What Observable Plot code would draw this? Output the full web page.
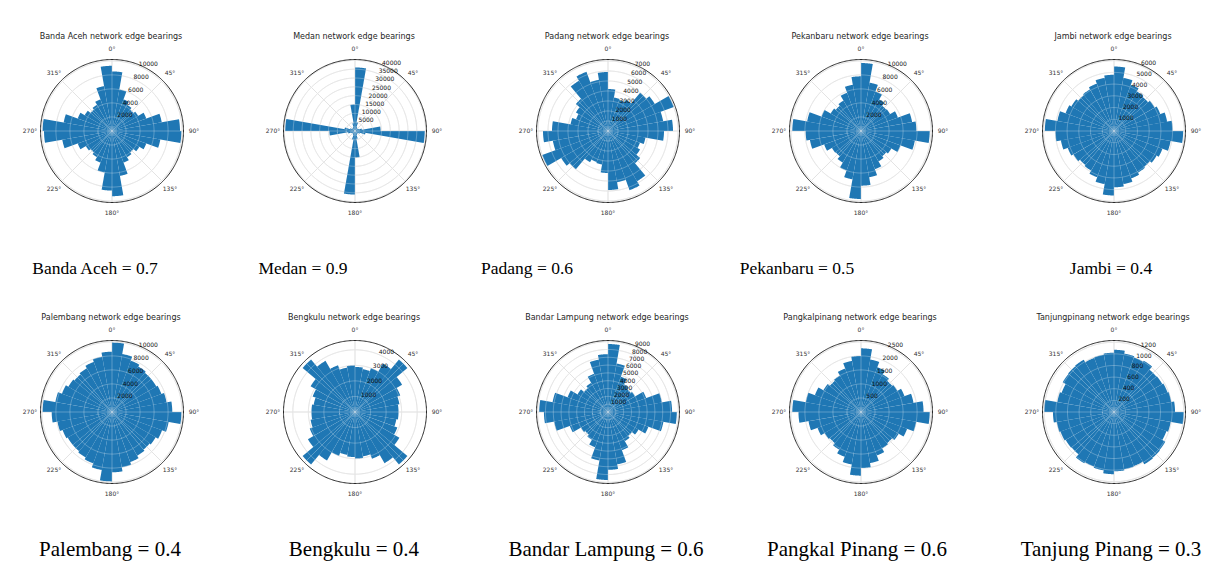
<!DOCTYPE html>
<html><head><meta charset="utf-8">
<script src="https://cdn.jsdelivr.net/npm/d3@7"></script>
<script src="https://cdn.jsdelivr.net/npm/@observablehq/plot@0.6"></script>
<style>
html,body{margin:0;padding:0;background:#fff;}
#root{position:relative;width:1220px;height:573px;overflow:hidden;background:#fff;}
.panel{position:absolute;overflow:visible;}
.title{position:absolute;font-family:"DejaVu Sans",sans-serif;font-size:8px;color:#262626;white-space:nowrap;transform:translate(-50%,-50%);}
.caption{position:absolute;font-family:"Liberation Serif","Times New Roman",serif;font-size:17.5px;color:#000;white-space:nowrap;transform:translate(-50%,-50%);}
.caption.row1{font-size:21px;}
</style></head><body><div id="root"></div>
<script>
// ---- data ----
const binStarts = [0,10,20,30,40,50,60,70,80,90,100,110,120,130,140,150,160,170,180,190,200,210,220,230,240,250,260,270,280,290,300,310,320,330,340,350];
const angleTicks = [0,45,90,135,180,225,270,315];
const plotTitles = ["Banda Aceh network edge bearings","Medan network edge bearings","Padang network edge bearings","Pekanbaru network edge bearings","Jambi network edge bearings","Palembang network edge bearings","Bengkulu network edge bearings","Bandar Lampung network edge bearings","Pangkalpinang network edge bearings","Tanjungpinang network edge bearings"];
const captionNames = ["Banda Aceh","Medan","Padang","Pekanbaru","Jambi","Palembang","Bengkulu","Bandar Lampung","Pangkal Pinang","Tanjung Pinang"];
const scores = ["0.7","0.9","0.6","0.5","0.4","0.4","0.4","0.6","0.6","0.3"];

const bandaAceh = [8500,6000,4800,4300,4000,4300,5200,7200,9700,9900,7000,5200,4500,4000,4300,4800,6500,9300, 8500,6000,4800,4300,4000,4300,5200,7200,9700,9900,7000,5200,4500,4000,4300,4800,6500,9300];
const medan = [36000,5000,2500,2000,1800,2000,2500,4000,14500,39500,6000,3000,2200,2000,2000,2500,4500,15000, 36000,5000,2500,2000,1800,2000,2500,4000,14500,39500,6000,3000,2200,2000,2000,2500,4500,15000];
const padang = [4200,3400,3300,3600,5000,5400,7000,5600,6500,5600,3800,3400,3700,4200,5800,6300,5200,5900, 4200,3400,3300,3600,5000,5400,7000,5600,6500,5600,3800,3400,3700,4200,5800,6300,5200,5900];
const pekanbaru = [9700,7000,6000,5200,4700,4800,5600,7400,7900,9800,7800,6000,5000,4700,5000,5800,6700,7800, 9700,7000,6000,5200,4700,4800,5600,7400,7900,9800,7800,6000,5000,4700,5000,5800,6700,7800];
const jambi = [5500,4600,4200,3900,3800,4000,4200,4600,5000,5900,4900,4400,4200,4000,4100,4300,4600,4800, 5500,4600,4200,3900,3800,4000,4200,4600,5000,5900,4900,4400,4200,4000,4100,4300,4600,4800];
const palembang = [9900,8400,7800,7500,7300,7300,7500,7900,8600,9900,8200,7600,7200,7000,7200,7600,8000,8600, 9900,8400,7800,7500,7300,7300,7500,7900,8600,9900,8200,7600,7200,7000,7200,7600,8000,8600];
const bengkulu = [2900,2800,3000,3600,4400,3500,3100,2900,2800,2800,2700,2900,3300,4400,3800,3200,2900,3000, 2900,2800,3000,3600,4400,3500,3100,2900,2800,2800,2700,2900,3300,4400,3800,3200,2900,3000];
const bandarLampung = [8700,6300,4800,4100,3800,4000,5200,7000,8200,8800,7200,5500,4500,4000,4300,5200,6800,7400, 8700,6300,4800,4100,3800,4000,5200,7000,8200,8800,7200,5500,4500,4000,4300,5200,6800,7400];
const pangkalpinang = [2270,1900,1700,1550,1450,1500,1650,1900,2230,2450,2000,1750,1550,1450,1500,1650,1850,2000, 2270,1900,1700,1550,1450,1500,1650,1900,2230,2450,2000,1750,1550,1450,1500,1650,1850,2000];
const tanjungpinang = [1070,1020,1000,1020,950,960,980,1000,1050,1200,990,960,1020,1030,1040,990,1000,1020, 1070,1020,1000,1020,950,960,980,1000,1050,1200,990,960,1020,1030,1040,990,1000,1020];

const ticksBandaAceh = [2000,4000,6000,8000,10000];
const ticksMedan = [5000,10000,15000,20000,25000,30000,35000,40000];
const ticksPadang = [1000,2000,3000,4000,5000,6000,7000];
const ticksPekanbaru = [2000,4000,6000,8000,10000];
const ticksJambi = [1000,2000,3000,4000,5000,6000];
const ticksPalembang = [2000,4000,6000,8000,10000];
const ticksBengkulu = [1000,2000,3000,4000];
const ticksBandarLampung = [1000,2000,3000,4000,5000,6000,7000,8000,9000];
const ticksPangkalpinang = [500,1000,1500,2000,2500];
const ticksTanjungpinang = [200,400,600,800,1000,1200];
const radialMax = [10200,40500,7150,10200,6100,10200,4600,9150,2550,1230];

const seriesList = [bandaAceh,medan,padang,pekanbaru,jambi,palembang,bengkulu,bandarLampung,pangkalpinang,tanjungpinang];
const tickList = [ticksBandaAceh,ticksMedan,ticksPadang,ticksPekanbaru,ticksJambi,ticksPalembang,ticksBengkulu,ticksBandarLampung,ticksPangkalpinang,ticksTanjungpinang];

// ---- layout ----
const centerX = [111,354,607,860,1113];
const centerY = [130,411];
const captionX = [[95,303,527,797,1111],[110,354,606,857,1111]];
const captionY = [268,549];
const R = 71.5, M = 34, D = 20;
const lon = a => 180 - a;
const circle = rad => d3.geoCircle().center([0,90]).radius(rad).precision(1)();

function wedge(a0, a1, rad) {
  const outer = d3.range(a0, a1 + 1e-6, 0.5).map(a => [lon(a), 90 - rad]);
  const inner = [[lon(a1), 90 - 1e-4], [lon(a0), 90 - 1e-4]];
  const ring = [...outer, ...inner, outer[0]];
  let poly = {type: "Polygon", coordinates: [ring]};
  if (d3.geoArea(poly) > 2 * Math.PI) poly = {type: "Polygon", coordinates: [ring.slice().reverse()]};
  return poly;
}

const root = document.getElementById("root");
for (let i = 0; i < 10; i++) {
  const row = Math.floor(i / 5), col = i % 5;
  const cx = centerX[col], cy = centerY[row];
  const rs = d3.scaleLinear().domain([0, radialMax[i]]).range([0, D]);
  const bars = binStarts.map((b, k) => ({start: b, value: seriesList[i][k]}));
  const ticks = tickList[i];
  const spokes = a => ({type: "LineString", coordinates: [[lon(a), 90], [lon(a), 90 - D]]});
  const chart = Plot.plot({
    width: 2 * (R + M), height: 2 * (R + M), margin: M,
    style: {fontFamily: "DejaVu Sans", background: "transparent", overflow: "visible"},
    projection: {type: "azimuthal-equidistant", rotate: [0, -90], domain: circle(D), inset: 0, clip: false},
    marks: [
      Plot.geo(ticks, {geometry: t => circle(rs(t)), stroke: "#cfcfcf", strokeWidth: 0.8, fill: "none"}),
      Plot.geo(angleTicks, {geometry: spokes, stroke: "#cfcfcf", strokeWidth: 0.8}),
      Plot.geo(bars, {geometry: d => wedge(d.start, d.start + 10, rs(d.value)), fill: "#1f77b4"}),
      Plot.geo(ticks, {geometry: t => circle(rs(t)), stroke: "#ffffff", strokeOpacity: 0.35, strokeWidth: 0.8, fill: "none"}),
      Plot.geo(angleTicks, {geometry: spokes, stroke: "#ffffff", strokeOpacity: 0.35, strokeWidth: 0.8}),
      Plot.geo([D], {geometry: d => circle(d), stroke: "#2a2a2a", strokeWidth: 1, fill: "none"}),
      Plot.text(angleTicks, {x: a => lon(a), y: () => 90 - D * 1.147, text: a => a + "°", fontSize: 6, fill: "#333"}),
      Plot.text(ticks, {x: () => lon(22.5), y: t => 90 - rs(t), text: t => String(t), textAnchor: "start", dy: -2.5, fontSize: 6, fill: "#111"})
    ]
  });
  chart.classList.add("panel");
  chart.style.left = (cx - R - M) + "px";
  chart.style.top = (cy - R - M) + "px";
  root.appendChild(chart);

  const t = document.createElement("div");
  t.className = "title";
  t.textContent = plotTitles[i];
  t.style.left = cx + "px";
  t.style.top = (cy - 94) + "px";
  root.appendChild(t);

  const c = document.createElement("div");
  c.className = "caption" + (row === 1 ? " row1" : "");
  c.textContent = captionNames[i] + " = " + scores[i];
  c.style.left = captionX[row][col] + "px";
  c.style.top = captionY[row] + "px";
  root.appendChild(c);
}
</script></body></html>
